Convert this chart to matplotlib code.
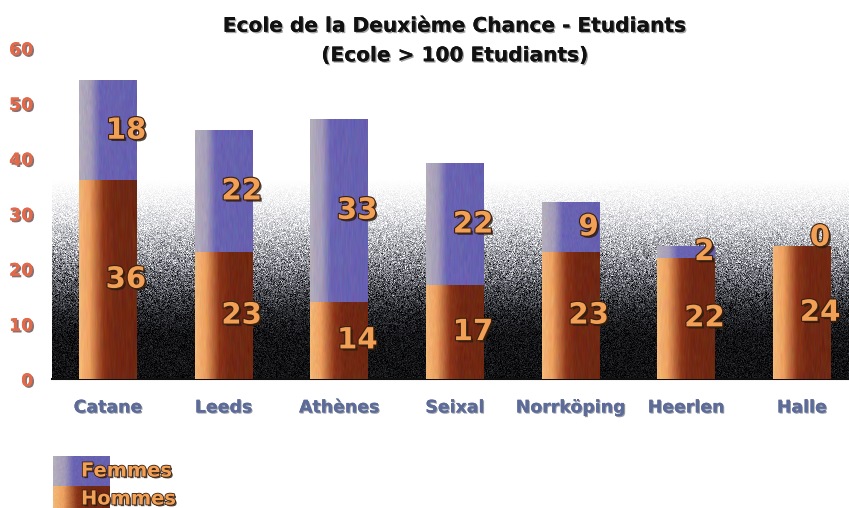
import numpy as np
import matplotlib
matplotlib.use("Agg")
import matplotlib.pyplot as plt
import matplotlib.patheffects as pe
from matplotlib.colors import LinearSegmentedColormap

# --- data -------------------------------------------------------------
ecoles = ["Catane", "Leeds", "Athènes", "Seixal", "Norrköping", "Heerlen", "Halle"]
hommes = [36, 23, 14, 17, 23, 22, 24]
femmes = [18, 22, 33, 22, 9, 2, 0]
yticks = [0, 10, 20, 30, 40, 50, 60]
titre = "Ecole de la Deuxième Chance - Etudiants\n(Ecole > 100 Etudiants)"

# --- styling ----------------------------------------------------------
FONT = "DejaVu Sans"
ORANGE_TXT = "#f2a055"
TICK_TXT = "#e2694a"
CAT_TXT = "#5c6b98"

cmap_h = LinearSegmentedColormap.from_list(
    "hommes", [(0.0, "#f4b878"), (0.18, "#eda060"), (0.42, "#8a3418"),
               (0.6, "#72281360"[:7]), (1.0, "#6e2812")])
cmap_f = LinearSegmentedColormap.from_list(
    "femmes", [(0.0, "#b4aebc"), (0.2, "#a49cba"), (0.36, "#6a64b2"),
               (1.0, "#6660b0")])

rng = np.random.default_rng(3)

W, H = 849, 508
fig = plt.figure(figsize=(W / 100, H / 100), dpi=100)
fig.patch.set_facecolor("white")

x0, x1 = -0.484, 6.406
ax = fig.add_axes([52 / W, 1 - 379 / H, (W - 52) / W, (379 - 48) / H])
ax.set_xlim(x0, x1)
ax.set_ylim(0, 60)

# grainy white-to-black backdrop behind the bars
ny, nx = 400, 900
v = np.linspace(0, 60, ny)[:, None]
prof = np.interp(v, [0, 8, 12, 16, 20, 24, 28, 32, 36, 60],
                 [0.07, 0.08, 0.15, 0.3, 0.5, 0.68, 0.85, 0.95, 1.0, 1.0])
prof = np.repeat(prof, nx, axis=1)
amp = 0.75 * prof * (1 - prof)
b = np.clip(prof + amp * rng.standard_normal((ny, nx)), 0, 1)
tint = 0.06 * (1 - b) * b * 4
bg = np.dstack([b - tint * 0.3, b - tint * 0.2, b + tint * 0.3])
bg = np.clip(bg, 0, 1)
ax.imshow(bg, extent=[x0, x1, 0, 60], origin="lower", aspect="auto",
          zorder=0, interpolation="nearest")

xpos = np.arange(len(ecoles))
width = 0.5
bars_h = ax.bar(xpos, hommes, width, color="none", zorder=2)
bars_f = ax.bar(xpos, femmes, width, bottom=hommes, color="none", zorder=2)


def fill_gradient(axis, patch, cmap):
    x, y = patch.get_x(), patch.get_y()
    w, h = patch.get_width(), patch.get_height()
    if h <= 0:
        return
    g = np.linspace(0, 1, 200)[None, :]
    img = cmap(np.repeat(g, 20, axis=0))[:, :, :3]
    img = np.clip(img + 0.035 * rng.standard_normal(img.shape), 0, 1)
    axis.imshow(img, extent=[x, x + w, y, y + h], origin="lower",
                aspect="auto", zorder=3, interpolation="bilinear")


for p in bars_h:
    fill_gradient(ax, p, cmap_h)
for p in bars_f:
    fill_gradient(ax, p, cmap_f)

val_fx = [pe.withSimplePatchShadow(offset=(1.6, -1.6), shadow_rgbFace="#2a1a10",
                                   alpha=0.8),
          pe.Stroke(linewidth=1.6, foreground="#3a2010"), pe.Normal()]

for i in range(len(ecoles)):
    for bottom, val in ((0, hommes[i]), (hommes[i], femmes[i])):
        y = bottom + val / 2 if val > 0 else bottom + 1.6
        ax.text(xpos[i] + 0.155, y, f"{val}", ha="center", va="center",
                fontsize=21, fontweight="bold", family=FONT,
                color=ORANGE_TXT, zorder=5, path_effects=val_fx)

ax.set_xticks(xpos)
ax.set_xticklabels(ecoles, fontsize=12.5, fontweight="bold", family=FONT,
                   color=CAT_TXT)
ax.set_yticks(yticks)
ax.set_yticklabels([str(t) for t in yticks], fontsize=12.5, fontweight="bold",
                   family=FONT, color=TICK_TXT)
ax.tick_params(axis="x", length=0, pad=14)
ax.tick_params(axis="y", length=0, pad=13.5)
for lab in ax.get_yticklabels():
    lab.set_path_effects([pe.withSimplePatchShadow(offset=(1.2, -1.2),
                                                   shadow_rgbFace="#553333",
                                                   alpha=0.7), pe.Normal()])
for lab in ax.get_xticklabels():
    lab.set_path_effects([pe.withSimplePatchShadow(offset=(0.8, -0.8),
                                                   shadow_rgbFace="#30384a",
                                                   alpha=0.5), pe.Normal()])
for s in ("top", "right", "left"):
    ax.spines[s].set_visible(False)
ax.spines["bottom"].set_color("#101010")
ax.spines["bottom"].set_linewidth(1.5)

fig.text(455 / W, 1 - 41 / H, titre, ha="center", va="center", fontsize=14.5,
         fontweight="bold", family=FONT, color="#111111", linespacing=1.7,
         path_effects=[pe.withSimplePatchShadow(offset=(1, -1),
                                                shadow_rgbFace="#444444",
                                                alpha=0.5), pe.Normal()])

# legend drawn in figure pixel space
lg = fig.add_axes([0, 0, 1, 1])
lg.set_xlim(0, W)
lg.set_ylim(H, 0)
lg.axis("off")
g = np.linspace(0, 1, 200)[None, :]
for cmap, (ya, yb) in ((cmap_f, (456, 486)), (cmap_h, (486, 510))):
    img = cmap(np.repeat(g, 20, axis=0))[:, :, :3]
    img = np.clip(img + 0.035 * rng.standard_normal(img.shape), 0, 1)
    lg.imshow(img, extent=[53, 110, yb, ya], aspect="auto", zorder=1,
              interpolation="bilinear")
leg_fx = [pe.withSimplePatchShadow(offset=(1.2, -1.2), shadow_rgbFace="#2a1a10",
                                   alpha=0.8),
          pe.Stroke(linewidth=1.2, foreground="#3a2010"), pe.Normal()]
for lab, yc in (("Femmes", 471), ("Hommes", 499)):
    lg.text(81, yc, lab, ha="left", va="center", fontsize=14,
            fontweight="bold", family=FONT, color=ORANGE_TXT, zorder=3,
            path_effects=leg_fx)
lg.set_xlim(0, W)
lg.set_ylim(H, 0)

fig.savefig("out.png", dpi=100)
